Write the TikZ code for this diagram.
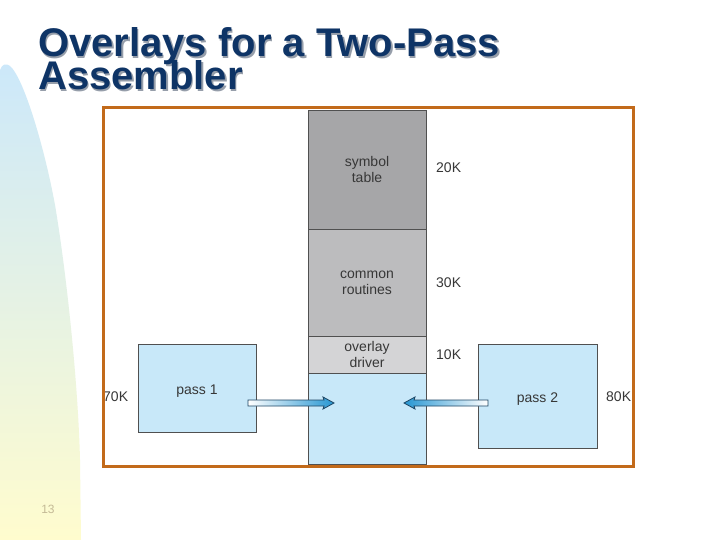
\documentclass[tikz,border=0pt]{standalone}
\usepackage{fontspec}
\setmainfont{Liberation Sans}
\definecolor{titleblue}{RGB}{14,52,102}
\definecolor{shadowgray}{RGB}{150,158,170}
\definecolor{frameorange}{RGB}{194,106,26}
\definecolor{darkgray1}{RGB}{166,166,168}
\definecolor{midgray1}{RGB}{188,188,190}
\definecolor{lightgray1}{RGB}{212,212,214}
\definecolor{memblue}{RGB}{200,232,249}
\definecolor{boxline}{RGB}{80,80,80}
\definecolor{labeltext}{RGB}{55,55,55}
\definecolor{decoblue}{RGB}{204,232,250}
\definecolor{decoyellow}{RGB}{255,252,206}
\definecolor{pagenum}{RGB}{196,186,150}
\definecolor{arrowblue}{RGB}{38,150,210}
\definecolor{arrowline}{RGB}{30,70,100}
\tikzset{
  memblock/.style={draw=boxline, line width=0.8pt, minimum width=118pt, inner sep=0pt,
    align=center, text=labeltext, font=\fontsize{14}{16}\selectfont},
  sizelabel/.style={anchor=west, inner sep=0pt, text=labeltext, font=\fontsize{14}{16}\selectfont},
  titletext/.style={anchor=base west, inner sep=0pt,
    font=\fontsize{40}{33}\selectfont\bfseries},
  arrowshape/.style={draw=arrowline, line width=0.8pt}
}
\begin{document}
\begin{tikzpicture}[x=1pt,y=-1pt]
\useasboundingbox (0,0) rectangle (720,540);
\fill[white] (0,0) rectangle (720,540);
% left decoration
\shade[top color=decoblue, bottom color=decoyellow]
  (0,540) -- (0,70) .. controls (2,64) and (6,63) .. (10,66)
  .. controls (24,78) and (45,150) .. (55,205)
  .. controls (66,270) and (78,380) .. (80,460)
  -- (81,540) -- cycle;
\node[text=pagenum, font=\fontsize{12}{14}\selectfont] (pg) at (48,509) {13};
% title
\node[titletext, text=shadowgray] (ts1) at (39.5,58.5) {Overlays for a Two-Pass};
\node[titletext, text=shadowgray] (ts2) at (39.5,91.5) {Assembler};
\node[titletext, text=titleblue] (t1) at (38,57) {Overlays for a Two-Pass};
\node[titletext, text=titleblue] (t2) at (38,90) {Assembler};
% memory column
\node[memblock, fill=darkgray1, minimum height=119pt] (sym) at (367,169.5) {symbol\\table};
\node[memblock, fill=midgray1, minimum height=107pt] (com) at (367,282.5) {common\\routines};
\node[memblock, fill=lightgray1, minimum height=37pt] (drv) at (367,354.5) {overlay\\driver};
\node[memblock, fill=memblue, minimum height=91pt] (ovl) at (367,418.5) {};
\node[sizelabel] (k20) at (436,168) {20K};
\node[sizelabel] (k30) at (436,283) {30K};
\node[sizelabel] (k10) at (436,355) {10K};
% passes
\node[memblock, fill=memblue, minimum height=88pt] (p1) at (197,388) {\raisebox{-6pt}[0pt][0pt]{pass 1}};
\node[memblock, fill=memblue, minimum width=119pt, minimum height=104pt] (p2) at (537.5,396) {\raisebox{-6pt}[0pt][0pt]{pass 2}};
\node[sizelabel] (k70) at (103,397) {70K};
\node[sizelabel] (k80) at (606,397) {80K};
% arrows
\shade[left color=white, right color=arrowblue, arrowshape]
  (248,400) -- (324,400) -- (323,397) -- (334,403) -- (323,409) -- (324,406) -- (248,406) -- cycle;
\shade[right color=white, left color=arrowblue, arrowshape]
  (488,400) -- (414,400) -- (415,397) -- (404,403) -- (415,409) -- (414,406) -- (488,406) -- cycle;
% frame
\draw[frameorange, line width=3pt] (103,108) rectangle (633,466);
\end{tikzpicture}
\end{document}
